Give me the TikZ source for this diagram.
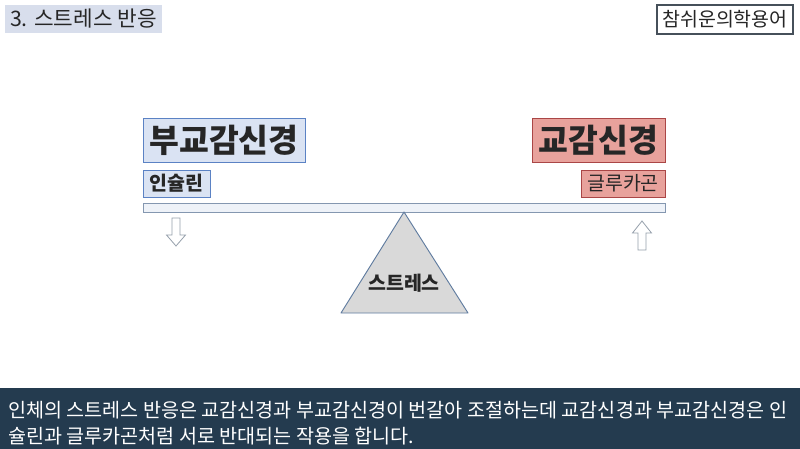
\documentclass[tikz,border=0pt]{standalone}
\usepackage{fontspec}
\setmainfont{Noto Sans CJK KR}
\definecolor{bluefill}{RGB}{218,227,243}
\definecolor{blueline}{RGB}{91,130,196}
\definecolor{pinkfill}{RGB}{232,162,156}
\definecolor{pinkline}{RGB}{170,70,70}
\definecolor{titlefill}{RGB}{216,222,236}
\definecolor{brandline}{RGB}{70,80,90}
\definecolor{beamline}{RGB}{132,151,176}
\definecolor{beamfill}{RGB}{238,242,248}
\definecolor{triline}{RGB}{96,124,160}
\definecolor{trifill}{RGB}{217,217,217}
\definecolor{arrowline}{RGB}{150,160,172}
\definecolor{bandfill}{RGB}{36,59,79}
\begin{document}
\begin{tikzpicture}[x=0.75pt,y=-0.75pt,
  txt/.style={text=black!85, inner sep=0pt, outer sep=0pt},
  bluebox/.style={draw=blueline, line width=0.7pt, fill=bluefill, txt},
  pinkbox/.style={draw=pinkline, line width=0.7pt, fill=pinkfill, txt},
  outarrow/.style={draw=arrowline, line width=0.6pt, fill=white, line join=miter},
  big/.style={font=\fontsize{24.3}{28}\selectfont\bfseries},
  small/.style={font=\fontsize{14.6}{18}\selectfont},
  smallbold/.style={font=\fontsize{14.6}{18}\selectfont\bfseries}
]
\useasboundingbox (0,0) rectangle (800,449);
\fill[white] (0,0) rectangle (800,449);

% title
\node[txt, fill=titlefill, minimum width={157*0.75pt}, minimum height={28*0.75pt}, font=\fontsize{16}{18}\selectfont] (title) at (83.5,19) {3. 스트레스 반응};
\node[txt, draw=brandline, line width=0.8pt, fill=white, minimum width={136*0.75pt}, minimum height={29*0.75pt}, small] (brand) at (725,19.5) {참쉬운의학용어};

% boxes
\node[bluebox, minimum width={162*0.75pt}, minimum height={44*0.75pt}, big] (para) at (224,140) {부교감신경};
\node[bluebox, minimum width={67*0.75pt}, minimum height={27*0.75pt}, smallbold] (insulin) at (176.5,183.5) {인슐린};
\node[pinkbox, minimum width={133*0.75pt}, minimum height={44*0.75pt}, big] (symp) at (598.5,140) {교감신경};
\node[pinkbox, minimum width={84*0.75pt}, minimum height={27*0.75pt}, small] (glucagon) at (623,183.5) {글루카곤};

% beam
\node[draw=beamline, line width=0.7pt, fill=beamfill, minimum width={522*0.75pt}, minimum height={9*0.75pt}, inner sep=0pt] (beam) at (404,207.5) {};

% fulcrum
\coordinate (apex) at (404,212);
\coordinate (bl) at (341,313);
\coordinate (br) at (468,313);
\draw[draw=triline, line width=0.7pt, fill=trifill, line join=round] (apex) -- (br) -- (bl) -- cycle;
\node[txt, smallbold] (stress) at (404,283) {스트레스};

% arrows
\draw[outarrow] (172,218) -- (180,218) -- (180,235) -- (185.5,235) -- (176,246) -- (166.5,235) -- (172,235) -- cycle;
\draw[outarrow] (638,250) -- (646,250) -- (646,233) -- (651.5,233) -- (642,221) -- (632.5,233) -- (638,233) -- cycle;

% bottom band
\fill[bandfill] (0,388) rectangle (800,449);
\node[anchor=base west, inner sep=0pt, text=white, align=left, font=\fontsize{14.7}{19.5}\selectfont] (caption) at (8,443) {인체의 스트레스 반응은 교감신경과 부교감신경이 번갈아 조절하는데 교감신경과 부교감신경은 인\\슐린과 글루카곤처럼 서로 반대되는 작용을 합니다.};
\end{tikzpicture}
\end{document}
